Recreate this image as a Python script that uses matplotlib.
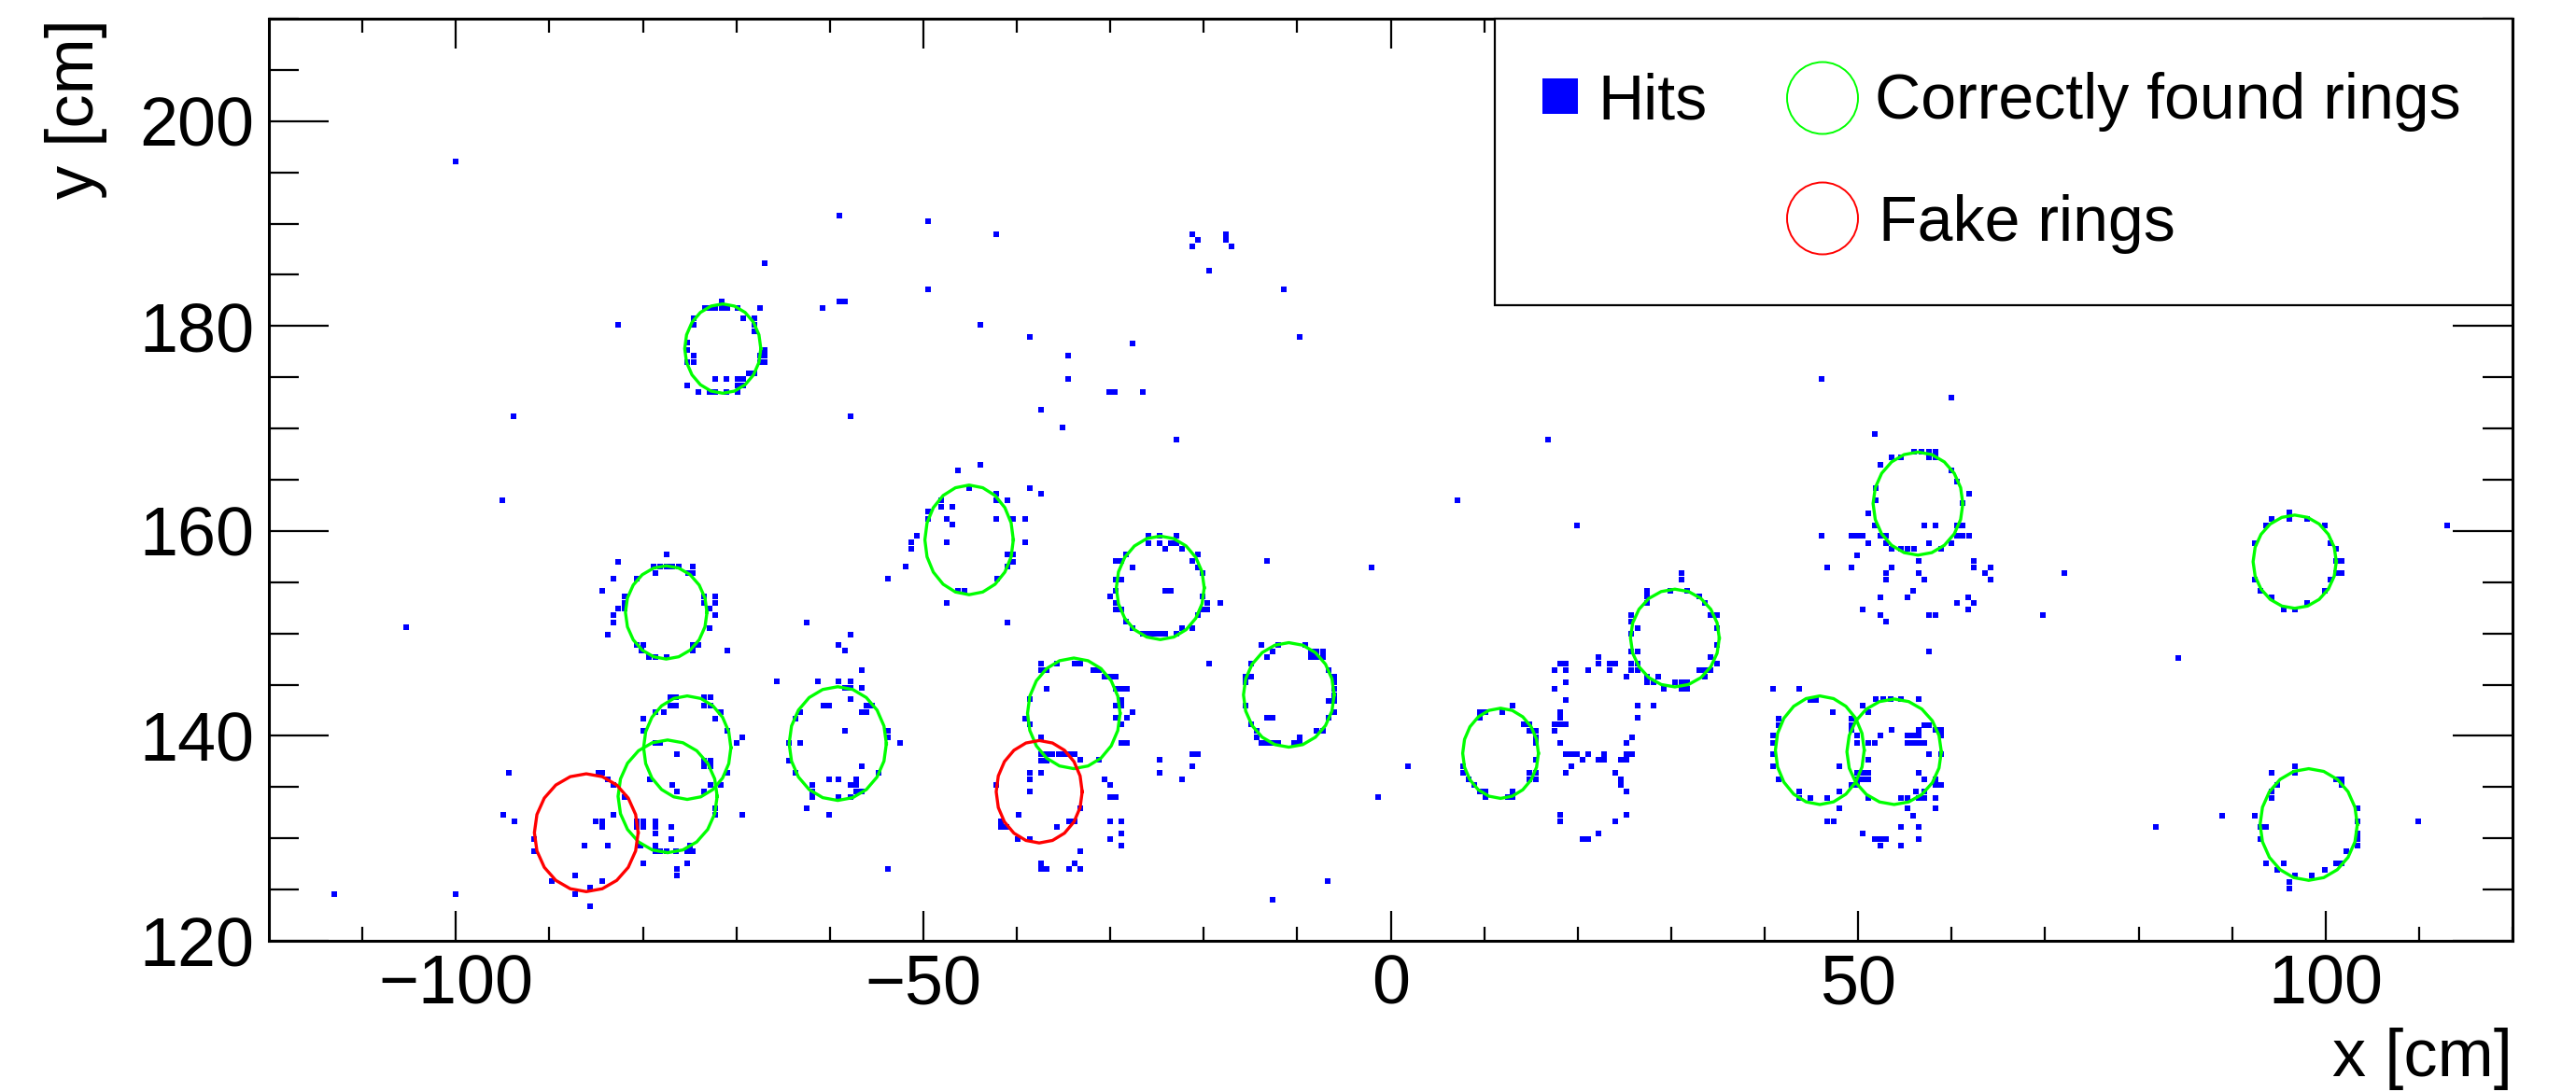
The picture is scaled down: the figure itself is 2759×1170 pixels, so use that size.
import numpy as np
import matplotlib
matplotlib.use("Agg")
import matplotlib.pyplot as plt
from matplotlib.patches import Rectangle, Ellipse

plt.rcParams['font.family'] = ['Liberation Sans', 'DejaVu Sans']

# ---------------- data ----------------
hits_sparse = [(-100.0, 196.1), (-105.3, 150.6), (-113.0, 124.6),
    (-59.0, 190.8), (-49.5, 190.2), (-42.2, 189.0), (-67.0, 186.1), (-49.5, 183.6), (-59.0, 182.4), (-58.4, 182.4),
    (-60.8, 181.8), (-82.6, 180.1), (-43.9, 180.1), (-38.6, 178.9), (-34.5, 177.1), (-34.5, 174.8), (-30.1, 173.6),
    (-29.5, 173.6), (-37.4, 171.8), (-35.1, 170.1), (-93.8, 171.2), (-57.8, 171.2), (-95.0, 163.0),
    (-21.25, 189.0), (-17.6, 189.0), (-20.65, 188.4), (-17.6, 188.4), (-21.25, 187.8), (-17.0, 187.8), (-19.4, 185.45),
    (-11.4, 183.6), (-9.7, 178.9), (-27.6, 178.3), (-26.55, 173.6), (-22.9, 168.9), (16.85, 168.9), (7.1, 163.0),
    (46.1, 174.8), (59.95, 173.0), (51.75, 169.5), (19.9, 160.55), (-13.2, 157.05), (-2.0, 156.45), (-19.4, 147.05),
    (84.2, 147.6), (113.0, 160.55), (72.1, 155.85), (69.8, 151.75), (-6.7, 125.8), (-12.6, 124.0), (1.85, 137.05),
    (-1.35, 134.0), (81.8, 131.1), (109.9, 131.7), (-53.75, 127.0)]

hits_ring_top = [(-71.6, 182.4), (-73.4, 181.8), (-72.85, 181.8), (-72.25, 181.8), (-71.6, 181.8), (-71.0, 181.8),
    (-69.9, 181.8), (-67.5, 181.8), (-74.6, 180.75), (-74.6, 180.1), (-69.3, 180.75), (-68.1, 180.75), (-68.1, 180.1),
    (-68.1, 179.5), (-75.25, 178.35), (-75.25, 177.7), (-74.6, 177.1), (-75.25, 176.5), (-74.6, 176.5), (-66.95, 177.7),
    (-67.5, 177.1), (-66.95, 177.1), (-67.5, 176.5), (-66.95, 176.5), (-68.7, 175.4), (-68.1, 175.4), (-72.25, 174.8),
    (-71.05, 174.8), (-69.9, 174.8), (-69.3, 174.8), (-69.9, 174.2), (-69.3, 174.2), (-75.25, 174.2), (-74.05, 173.6),
    (-72.85, 173.6), (-72.25, 173.6), (-71.05, 173.6), (-69.9, 173.6)]

hits_mid_left = [(-46.3, 165.9), (-43.9, 166.5), (-38.6, 164.2), (-37.4, 163.6), (-42.2, 163.6), (-41.0, 163.0),
    (-42.2, 163.0), (-45.1, 164.2), (-48.1, 163.0), (-48.1, 162.4), (-46.9, 162.4), (-49.5, 161.9),
    (-77.5, 157.7), (-49.45, 161.2), (-47.45, 161.2), (-46.85, 160.6), (-42.15, 161.2), (-40.35, 161.2),
    (-39.15, 161.2), (-50.65, 159.5), (-51.25, 158.9), (-51.25, 158.3), (-47.45, 158.9), (-39.15, 158.9),
    (-40.95, 157.7), (-40.35, 157.7),
    (-82.6, 157.0), (-74.7, 156.5), (-74.7, 155.9), (-78.9, 156.5), (-78.2, 156.5), (-77.5, 156.5), (-76.85, 156.5),
    (-76.2, 156.5), (-78.7, 155.9), (-75.2, 155.9), (-83.1, 155.3), (-80.6, 155.3), (-84.35, 154.2), (-81.95, 153.6),
    (-81.95, 153.0), (-73.45, 153.6), (-72.25, 153.6), (-73.45, 153.0), (-72.25, 153.0), (-82.6, 152.4), (-81.95, 152.4),
    (-72.9, 152.4), (-83.1, 151.8), (-72.25, 151.8), (-83.1, 151.1), (-72.9, 150.5), (-83.7, 149.9), (-80.6, 148.9),
    (-80.0, 148.9), (-74.7, 148.9), (-74.05, 148.9), (-80.1, 148.3), (-74.7, 148.3), (-71.0, 148.3), (-79.4, 147.7),
    (-78.7, 147.7), (-77.5, 147.7),
    (-51.9, 156.5), (-53.75, 155.3), (-40.4, 157.0), (-40.95, 156.5), (-42.1, 155.3), (-46.3, 154.2), (-45.6, 154.2),
    (-47.5, 153.0), (-40.95, 151.1), (-62.5, 151.1), (-57.8, 149.9), (-59.05, 148.9), (-58.4, 148.3), (-56.6, 146.4),
    (-65.7, 145.3)]

hits_low_left = [(-61.3, 145.3), (-59.05, 145.3), (-57.8, 145.3), (-58.4, 144.65), (-57.8, 144.65), (-56.6, 144.65),
    (-57.8, 143.55), (-60.7, 142.95), (-60.05, 142.95), (-56.6, 142.35), (-56.1, 142.35), (-56.1, 142.95),
    (-55.5, 142.95), (-63.2, 142.35), (-63.7, 141.7), (-58.4, 140.5), (-53.75, 140.5), (-53.75, 139.9), (-64.4, 139.3),
    (-63.2, 139.3), (-52.5, 139.3), (-64.4, 137.6), (-56.6, 137.0), (-63.7, 136.4), (-54.8, 136.4), (-60.05, 135.8),
    (-59.05, 135.8), (-57.2, 135.8), (-61.9, 135.2), (-57.8, 135.2), (-57.2, 135.2), (-61.9, 134.6), (-57.2, 134.6),
    (-56.6, 134.6), (-61.9, 134.0), (-59.05, 134.0), (-57.8, 134.0), (-62.5, 132.9), (-60.05, 132.3),
    (-77.1, 143.75), (-76.45, 143.75), (-73.45, 143.75), (-72.8, 143.75), (-77.1, 142.95), (-76.45, 142.95),
    (-73.45, 142.95), (-72.8, 142.95), (-78.7, 142.35), (-77.8, 142.35), (-71.65, 142.35), (-80.0, 141.7),
    (-72.25, 141.7), (-80.0, 140.5), (-71.0, 140.5), (-69.35, 139.9), (-78.7, 139.3), (-78.2, 139.3), (-69.95, 139.3),
    (-76.35, 138.25), (-73.45, 137.6), (-72.8, 137.6), (-73.45, 137.0), (-72.8, 137.0), (-84.75, 136.4),
    (-84.35, 136.4), (-71.0, 136.4), (-94.35, 136.4), (-83.7, 135.8), (-79.3, 135.8), (-83.1, 135.2), (-76.9, 135.2),
    (-72.8, 135.2), (-71.65, 135.2), (-76.35, 134.6), (-73.45, 134.6), (-81.95, 134.0), (-72.25, 132.9),
    (-72.25, 132.3), (-69.35, 132.3), (-83.1, 132.3), (-94.95, 132.3), (-93.75, 131.7), (-85.0, 131.7),
    (-84.35, 131.7), (-80.6, 131.7), (-80.0, 131.7), (-78.7, 131.7), (-84.35, 131.1), (-80.6, 131.1), (-80.0, 131.1),
    (-78.7, 131.1), (-77.0, 131.1), (-78.7, 130.5), (-77.0, 129.9), (-86.2, 129.3), (-83.75, 129.3), (-80.2, 129.3),
    (-78.7, 129.3), (-74.95, 129.3), (-91.6, 129.9), (-91.6, 128.7), (-78.7, 128.7), (-78.2, 128.7), (-77.5, 128.7),
    (-76.45, 128.7), (-75.25, 128.7), (-74.7, 128.7), (-80.0, 127.6), (-75.25, 127.6), (-76.35, 127.0),
    (-76.35, 126.4), (-87.25, 126.4), (-89.7, 125.8), (-84.35, 125.8), (-85.6, 125.2), (-87.25, 124.6),
    (-100.0, 124.6), (-85.6, 123.4)]

hits_center = [(-37.45, 147.05), (-35.7, 147.05), (-37.45, 146.4), (-36.8, 146.4), (-36.8, 144.6), (-38.6, 143.55),
    (-39.15, 141.7), (-38.6, 141.1), (-37.45, 139.9), (-37.45, 138.25), (-36.8, 138.25), (-36.2, 138.25),
    (-35.55, 138.25), (-34.9, 138.25), (-34.3, 138.25), (-37.45, 137.6), (-36.8, 137.6), (-38.6, 136.4),
    (-37.45, 136.4), (-38.6, 135.8), (-42.2, 135.2), (-38.6, 134.6), (-39.8, 132.3), (-34.4, 131.7), (-41.7, 131.7),
    (-41.7, 131.1), (-41.05, 131.1), (-35.7, 131.1), (-39.9, 129.9), (-38.6, 129.9), (-37.45, 127.6), (-37.45, 127.0),
    (-36.8, 127.0), (-34.4, 127.0), (-28.8, 129.3), (-33.8, 131.7),
    (-33.8, 147.05), (-33.25, 147.05), (-31.8, 146.4), (-31.2, 146.4), (-30.6, 145.8), (-30.0, 145.8), (-29.4, 145.8),
    (-29.4, 144.6), (-28.8, 144.6), (-28.25, 144.6), (-28.8, 143.5), (-29.4, 142.95), (-28.8, 142.95), (-27.6, 142.35),
    (-29.4, 141.75), (-28.25, 141.75), (-28.8, 141.15), (-28.8, 139.3), (-28.25, 139.3), (-33.8, 138.25),
    (-33.25, 137.65), (-31.25, 137.65),
    (-21.2, 138.25), (-20.65, 138.25), (-24.75, 137.65), (-21.2, 137.05), (-24.75, 136.4), (-22.3, 135.8),
    (-30.6, 135.8), (-30.0, 135.2), (-30.0, 134.0), (-29.4, 134.0), (-33.25, 132.95), (-30.0, 131.7), (-28.8, 131.7),
    (-28.8, 130.5), (-30.0, 129.9), (-33.25, 128.7), (-33.8, 127.6), (-33.25, 127.0),
    (-25.95, 159.5), (-24.75, 159.5), (-22.9, 159.5), (-25.95, 158.8), (-24.75, 158.8), (-23.5, 158.8), (-22.9, 158.8),
    (-24.15, 158.3), (-22.3, 158.3), (-28.3, 157.7), (-20.65, 157.7), (-29.4, 157.05), (-28.8, 157.05), (-21.2, 157.05),
    (-27.6, 156.45), (-20.65, 156.45), (-20.1, 155.85), (-29.4, 155.25), (-28.8, 155.25), (-24.15, 154.2),
    (-23.5, 154.2), (-29.4, 154.2), (-30.0, 153.6), (-20.1, 153.6), (-29.4, 152.95), (-19.6, 152.95), (-18.2, 152.95),
    (-29.4, 152.35), (-28.8, 152.35), (-20.1, 152.35), (-19.6, 152.35), (-20.65, 151.75), (-28.3, 151.15),
    (-27.6, 150.5), (-22.3, 150.5), (-21.2, 150.5), (-26.55, 149.95), (-25.95, 149.95), (-25.35, 149.95),
    (-24.75, 149.95), (-24.15, 149.95), (-22.9, 149.95),
    (-13.8, 148.9), (-12.0, 148.9), (-9.15, 148.9), (-12.6, 148.25), (-8.5, 148.25), (-7.9, 148.25), (-7.25, 148.25),
    (-13.2, 147.65), (-8.5, 147.65), (-7.9, 147.65), (-7.25, 147.65), (-14.95, 147.05), (-6.6, 146.4), (-15.5, 145.8),
    (-14.95, 145.8), (-6.05, 145.8), (-15.5, 145.2), (-6.05, 145.2), (-6.05, 144.6), (-6.05, 144.0), (-6.6, 143.4),
    (-6.05, 143.4), (-15.5, 142.95), (-6.05, 142.35), (-6.6, 141.75), (-13.2, 141.75), (-12.6, 141.75),
    (-14.95, 141.15), (-14.35, 140.5), (-7.9, 140.5), (-7.25, 140.5), (-14.35, 139.9), (-9.7, 139.9), (-13.8, 139.3),
    (-13.2, 139.3), (-12.6, 139.3), (-12.0, 139.3), (-10.3, 139.3), (-9.7, 139.3)]

hits_mid_right = [(13.05, 142.95), (9.55, 142.35), (10.15, 142.35), (11.95, 142.35), (9.55, 141.75), (14.25, 141.15),
    (14.85, 141.15), (14.85, 140.5), (15.5, 140.5), (15.5, 139.9), (15.5, 139.3), (15.5, 137.65), (7.7, 137.05),
    (7.7, 136.4), (14.85, 136.4), (15.5, 136.4), (8.35, 135.8), (14.85, 135.8), (15.5, 135.8), (8.95, 135.2),
    (9.55, 134.6), (10.15, 134.6), (13.05, 134.6), (10.15, 134.0), (12.5, 134.0), (13.05, 134.0),
    (18.1, 147.05), (18.7, 147.05), (17.5, 146.4), (18.7, 146.4), (18.7, 145.2), (17.5, 144.6), (18.7, 143.5),
    (18.1, 142.35), (18.1, 141.75), (17.5, 141.15), (18.1, 141.15), (18.7, 141.15), (17.5, 140.5), (18.1, 139.3),
    (18.7, 138.25), (19.3, 138.25), (19.9, 138.25), (21.1, 138.25), (22.8, 138.25), (20.5, 137.65), (22.2, 137.65),
    (22.8, 137.65), (19.3, 137.05), (18.7, 136.4), (18.1, 132.3), (18.1, 131.7), (24.0, 136.4), (24.6, 135.8),
    (24.6, 135.2), (25.2, 134.6), (25.2, 132.3), (24.0, 131.7), (22.2, 130.5), (20.5, 129.9), (21.1, 129.9),
    (25.2, 139.3), (25.8, 139.9), (25.2, 138.25), (25.8, 138.25), (24.6, 137.65), (25.2, 137.65), (22.2, 147.05),
    (23.4, 147.05), (24.0, 147.05), (22.2, 147.65), (21.1, 146.4), (23.4, 146.4), (25.2, 145.8), (26.45, 142.95),
    (28.1, 142.95), (26.45, 141.75),
    (31.15, 155.85), (31.15, 155.25), (27.45, 154.2), (29.9, 154.2), (31.7, 154.2), (27.45, 153.6), (33.05, 153.6),
    (27.45, 152.95), (33.65, 152.95), (25.75, 151.75), (34.25, 151.75), (34.9, 151.75), (25.75, 151.15),
    (26.45, 150.5), (34.9, 150.5), (25.75, 149.95), (34.9, 148.9), (25.75, 148.25), (26.45, 148.25), (34.25, 147.65),
    (25.75, 147.05), (26.45, 147.05), (34.9, 147.05), (25.75, 146.4), (26.45, 146.4), (33.05, 146.4), (33.65, 146.4),
    (34.25, 146.4), (27.45, 145.8), (28.65, 145.8), (33.65, 145.8), (27.45, 145.2), (28.1, 145.2), (30.45, 145.2),
    (31.15, 145.2), (31.7, 145.2), (29.25, 144.6), (31.15, 144.6), (31.7, 144.6)]

hits_right = [(56.0, 167.75), (56.8, 167.75), (57.6, 167.75), (58.3, 167.75), (53.6, 167.15), (54.6, 167.15),
    (57.6, 167.15), (58.3, 167.15), (52.35, 166.5), (59.95, 165.95), (60.55, 164.8), (51.9, 164.15), (61.85, 163.6),
    (51.9, 163.0), (61.2, 162.7), (51.1, 161.75), (51.75, 160.55), (57.05, 160.55), (58.3, 160.55), (60.6, 160.55),
    (61.2, 160.55), (46.1, 159.5), (49.3, 159.5), (49.9, 159.5), (50.5, 159.5), (52.35, 159.5), (52.95, 159.5),
    (60.6, 159.5), (61.2, 159.5), (61.85, 159.5), (51.1, 158.85), (52.95, 158.85), (57.6, 158.85), (59.95, 158.85),
    (53.6, 158.25), (54.6, 158.25), (55.3, 158.25), (56.0, 158.25), (58.9, 158.25), (49.9, 157.65), (56.45, 157.05),
    (62.4, 157.05), (46.7, 156.45), (49.3, 156.45), (53.6, 156.45), (62.4, 156.45), (64.2, 156.45), (52.95, 155.85),
    (56.45, 155.85), (63.6, 155.85), (52.95, 155.25), (57.05, 155.25), (64.2, 155.25), (55.85, 154.15),
    (52.35, 153.55), (55.3, 153.55), (61.8, 153.55), (60.6, 153.0), (62.4, 153.0), (50.5, 152.35), (61.8, 152.35),
    (52.35, 151.75), (57.6, 151.75), (58.3, 151.75), (52.95, 151.15), (57.6, 148.2),
    (96.1, 161.85), (94.25, 161.2), (96.1, 161.2), (98.05, 161.2), (93.65, 160.55), (99.9, 160.55), (92.4, 158.85),
    (100.5, 158.85), (101.1, 158.25), (101.1, 157.05), (101.7, 157.05), (101.1, 155.85), (101.7, 155.85),
    (92.4, 155.25), (100.5, 155.25), (93.0, 154.15), (99.9, 154.15), (94.25, 153.55), (98.05, 153.0), (95.5, 152.35),
    (96.7, 152.35)]

hits_low_right = [(40.85, 144.6), (43.7, 144.6), (44.9, 143.5), (45.5, 143.5), (51.9, 143.6), (52.65, 143.6),
    (53.45, 143.6), (54.55, 143.6), (56.45, 143.6), (47.3, 142.35), (51.1, 142.35), (50.5, 142.95), (41.5, 141.7),
    (49.3, 141.7), (41.5, 141.05), (49.3, 141.05), (57.05, 141.05), (57.6, 141.05), (49.3, 140.55), (53.6, 140.55),
    (56.45, 140.55), (58.3, 140.55), (58.9, 140.55), (40.85, 140.0), (49.9, 140.0), (52.35, 140.0), (55.3, 140.0),
    (55.85, 140.0), (56.45, 140.0), (58.9, 140.0), (40.85, 139.35), (49.9, 139.35), (51.1, 139.35), (51.75, 139.35),
    (55.3, 139.35), (55.85, 139.35), (56.45, 139.35), (57.05, 139.35), (40.85, 138.2), (57.6, 138.2), (58.9, 138.2),
    (51.1, 137.65), (40.85, 137.05), (47.95, 137.05), (56.45, 136.4), (49.9, 136.4), (50.5, 136.4), (51.1, 136.4),
    (41.5, 135.8), (49.9, 135.8), (50.5, 135.8), (51.1, 135.8), (57.05, 135.8), (58.3, 135.8), (49.3, 135.2),
    (49.9, 135.2), (58.9, 135.2), (58.3, 135.2), (43.7, 134.6), (47.95, 134.6), (56.2, 134.6), (57.05, 134.6),
    (43.7, 133.95), (44.9, 133.95), (46.7, 133.95), (51.1, 133.95), (54.55, 133.95), (55.3, 133.95), (56.45, 133.95),
    (57.05, 133.95), (58.3, 133.95), (47.95, 132.9), (55.3, 132.9), (58.3, 132.9), (55.85, 132.25), (46.7, 131.7),
    (47.35, 131.7), (54.55, 131.1), (56.45, 131.1), (50.5, 130.5), (51.75, 129.9), (52.35, 129.9), (52.95, 129.9),
    (56.45, 129.9), (52.35, 129.3), (54.55, 129.3),
    (96.7, 137.05), (94.25, 136.4), (96.7, 136.4), (101.1, 135.8), (101.7, 135.8), (101.7, 135.2), (94.85, 135.2),
    (94.25, 134.6), (94.25, 133.95), (103.4, 132.9), (88.95, 132.25), (92.4, 132.25), (93.0, 131.1), (93.65, 131.1),
    (103.4, 131.7), (103.4, 130.5), (103.4, 129.9), (103.4, 129.3), (93.0, 129.9), (102.2, 128.7), (93.65, 127.55),
    (95.5, 127.55), (101.1, 127.55), (101.7, 127.55), (94.85, 126.95), (99.9, 126.95), (96.7, 126.4), (98.55, 126.4),
    (96.1, 125.75), (96.1, 125.1)]

# rings: centre x, centre y, semi-axis x, semi-axis y
good_cx = [-71.45, -77.5, -45.1, -24.65, -59.15, -75.25, -77.35, -33.9, -10.9, 11.75, 30.4, 56.4, 96.7, 45.9, 53.85, 98.2]
good_cy = [177.8, 152.05, 159.13, 154.45, 139.25, 138.85, 134.1, 142.2, 144.0, 138.3, 149.55, 162.67, 157.0, 138.6, 138.45, 131.35]
good_a = [4.07, 4.36, 4.73, 4.7, 5.2, 4.67, 5.3, 4.95, 4.85, 4.05, 4.75, 4.8, 4.45, 4.75, 5.05, 5.2]
good_b = [4.36, 4.55, 5.35, 5.05, 5.55, 5.05, 5.5, 5.4, 5.1, 4.4, 4.77, 5.03, 4.55, 5.3, 5.15, 5.45]

fake_cx = [-86.05, -37.6]
fake_cy = [130.55, 134.55]
fake_a = [5.55, 4.6]
fake_b = [5.75, 5.0]

x_ticks = [-100, -50, 0, 50, 100]
y_ticks = [120, 140, 160, 180, 200]

# ---------------- figure ----------------
W, H = 2759, 1170
fig = plt.figure(figsize=(W / 100, H / 100), dpi=100)
L, R, T, B = 288, 2691, 20, 1008
ax = fig.add_axes([L / W, 1 - B / H, (R - L) / W, (B - T) / H])
ax.set_xlim(-120, 120)
ax.set_ylim(120, 210)

all_hits = hits_sparse + hits_ring_top + hits_mid_left + hits_low_left + hits_center + hits_mid_right + hits_right + hits_low_right
hx = [p[0] for p in all_hits]
hy = [p[1] for p in all_hits]
ax.plot(hx, hy, linestyle='none', marker='s', markersize=3.8, markeredgewidth=0, color='#0000ff', zorder=2)

theta = np.linspace(0, 2 * np.pi, 21)
for cx, cy, a, b in zip(good_cx, good_cy, good_a, good_b):
    ax.plot(cx + a * np.cos(theta), cy + b * np.sin(theta), color='#00ff00', lw=2.4, zorder=3)
for cx, cy, a, b in zip(fake_cx, fake_cy, fake_a, fake_b):
    ax.plot(cx + a * np.cos(theta), cy + b * np.sin(theta), color='#ff0000', lw=2.4, zorder=3)

# axes style (ROOT like)
for sp in ax.spines.values():
    sp.set_linewidth(2.2)
ax.set_xticks(x_ticks)
ax.set_yticks(y_ticks)
ax.set_xticks(np.arange(-110, 121, 10), minor=True)
ax.set_yticks(np.arange(120, 211, 5), minor=True)
ax.tick_params(axis='x', which='major', direction='in', top=True, length=23, width=1.6, pad=10, labelsize=53)
ax.tick_params(axis='x', which='minor', direction='in', top=True, length=11, width=1.6)
ax.tick_params(axis='y', which='major', direction='in', right=True, length=46, width=1.6, pad=11, labelsize=53)
ax.tick_params(axis='y', which='minor', direction='in', right=True, length=23, width=1.6)

ax.set_xlabel('x [cm]', fontsize=52, loc='right')
ax.xaxis.set_label_coords(1.0, -0.094)
ax.set_ylabel('y [cm]', fontsize=52, loc='top')
ax.yaxis.set_label_coords(-0.072, 1.0)

# legend box (ROOT TLegend look)
tr = ax.transAxes
def fx(px):
    return (px - L) / (R - L)
def fy(py):
    return (B - py) / (B - T)

ax.add_patch(Rectangle((fx(1601), fy(327)), 1 - fx(1601), 1 - fy(327), transform=tr, facecolor='white',
                       edgecolor='black', lw=1.6, zorder=5, clip_on=False))
ax.plot([fx(1671)], [fy(103)], transform=tr, marker='s', markersize=27, markeredgewidth=0, color='#0000ff',
        linestyle='none', zorder=6, clip_on=False)
ax.text(fx(1711), fy(127), 'Hits', transform=tr, fontsize=49, ha='left', va='baseline', zorder=6)
ax.add_patch(Ellipse((fx(1952), fy(105)), 76 / (R - L), 77 / (B - T), transform=tr, fill=False,
                     edgecolor='#00ff00', lw=1.4, zorder=6, clip_on=False))
ax.text(fx(2008), fy(127), 'Correctly found rings', transform=tr, fontsize=49, ha='left', va='baseline', zorder=6)
ax.add_patch(Ellipse((fx(1952), fy(234)), 76 / (R - L), 77 / (B - T), transform=tr, fill=False,
                     edgecolor='#ff0000', lw=1.4, zorder=6, clip_on=False))
ax.text(fx(2012), fy(258), 'Fake rings', transform=tr, fontsize=49, ha='left', va='baseline', zorder=6)

fig.savefig('out.png', dpi=100, facecolor='white')
